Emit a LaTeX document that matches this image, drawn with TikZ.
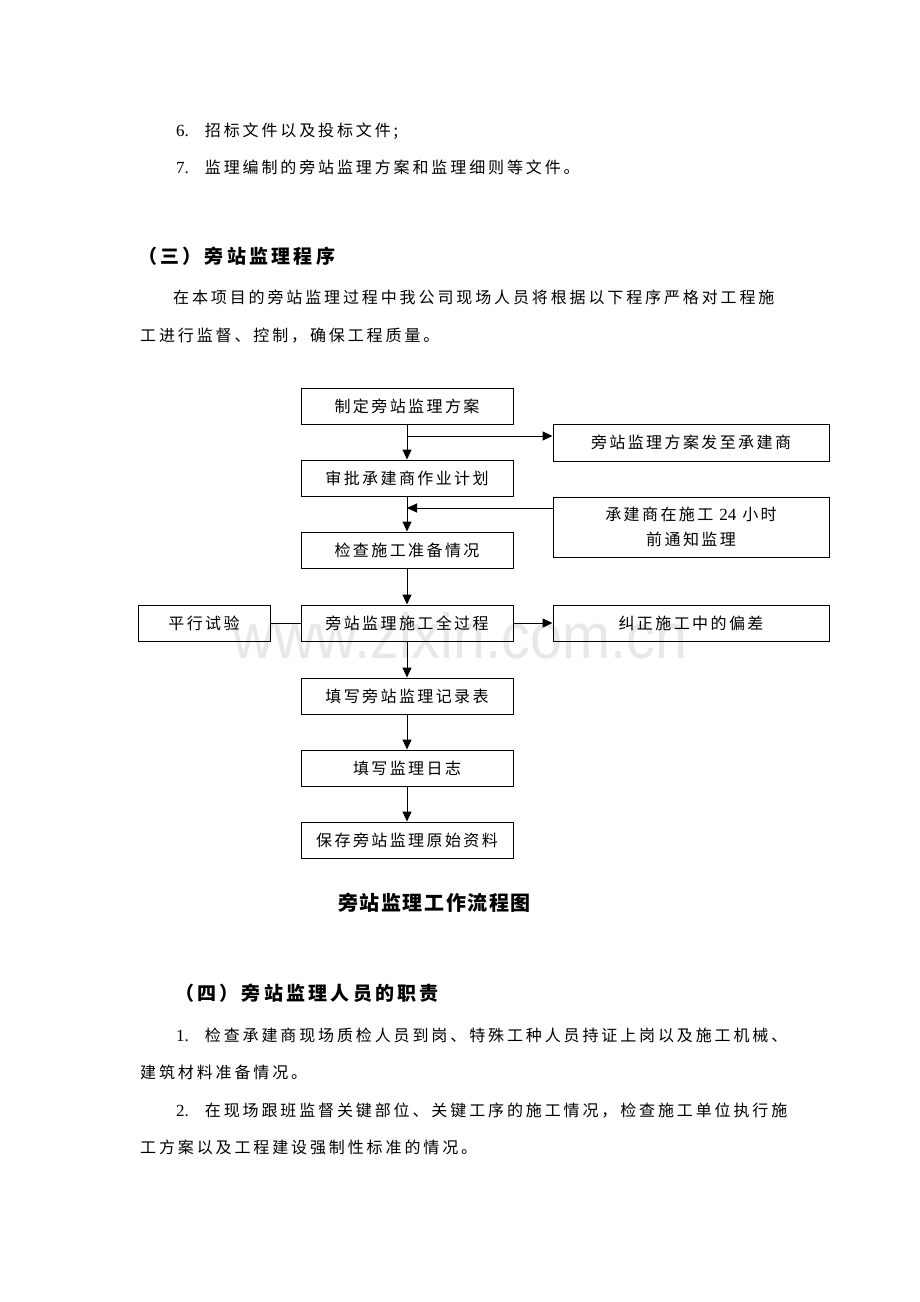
\documentclass[tikz,border=0pt]{standalone}
\usepackage{fontspec}
\setmainfont{Liberation Serif}
\newfontfamily\cjk[LetterSpace=15]{Noto Sans CJK SC}
\newfontfamily\cjkbody[LetterSpace=18]{Noto Sans CJK SC}
\newfontfamily\cjkhead[LetterSpace=17]{Noto Sans CJK SC}
\newfontfamily\cjkcap[LetterSpace=8]{Noto Sans CJK SC}
\newfontfamily\wmfont{Liberation Sans}
\usetikzlibrary{arrows.meta}

\tikzset{
  bodytext/.style={anchor=base west, inner sep=0pt, font=\fontsize{16}{19}\selectfont\cjkbody},
  headtext/.style={anchor=base west, inner sep=0pt, font=\fontsize{19}{22}\selectfont\cjkhead\bfseries},
  stepbox/.style={draw, line width=1pt, minimum height=36pt, inner sep=0pt, align=center, font=\fontsize{16}{25}\selectfont\cjk},
  mainbox/.style={stepbox, minimum width=212pt},
  sidebox/.style={stepbox, minimum width=276pt},
  arr/.style={line width=1pt, -{Triangle[length=10pt,width=9pt]}},
}

\begin{document}
\begin{tikzpicture}[x=1pt,y={(0pt,-1pt)}]
  \useasboundingbox (0,0) rectangle (920,1302);
  \fill[white] (0,0) rectangle (920,1302);

  % watermark
  \node[anchor=base, inner sep=0pt, text=gray!18, xscale=0.9,
        font=\fontsize{64}{70}\selectfont\wmfont] (mark) at (460,658) {www.zixin.com.cn};

  % text above
  \node[bodytext] (item6) at (176,136) {{\rmfamily\fontsize{17}{19}\selectfont 6.}\hspace{16pt}招标文件以及投标文件;};
  \node[bodytext] (item7) at (176,173) {{\rmfamily\fontsize{17}{19}\selectfont 7.}\hspace{16pt}监理编制的旁站监理方案和监理细则等文件。};
  \node[headtext] (head3) at (138,263) {（三）旁站监理程序};
  \node[bodytext] (para1) at (173,303) {在本项目的旁站监理过程中我公司现场人员将根据以下程序严格对工程施};
  \node[bodytext] (para2) at (140,341) {工进行监督、控制，确保工程质量。};

  % main column
  \node[mainbox] (plan)   at (407,406) {制定旁站监理方案};
  \node[mainbox] (approve) at (407,478) {审批承建商作业计划};
  \node[mainbox] (check)  at (407,550) {检查施工准备情况};
  \node[mainbox] (watch)  at (407,623) {旁站监理施工全过程};
  \node[mainbox] (record) at (407,696) {填写旁站监理记录表};
  \node[mainbox] (diary)  at (407,768) {填写监理日志};
  \node[mainbox] (keep)   at (407,840) {保存旁站监理原始资料};

  % side boxes
  \node[sidebox, minimum height=37pt] (send) at (691,442.5) {旁站监理方案发至承建商};
  \node[sidebox, minimum height=60pt] (notify) at (691,527) {承建商在施工 {\rmfamily\fontsize{17}{25}\selectfont 24} 小时\\前通知监理};
  \node[sidebox] (correct) at (691,623) {纠正施工中的偏差};
  \node[stepbox, minimum width=132pt] (parallel) at (204,623) {平行试验};

  % connectors
  \coordinate (fork) at (407,436);
  \coordinate (join) at (407,508);
  \draw[arr] (plan) -- (approve);
  \draw[arr] (fork) -- (send.west |- fork);
  \draw[arr] (approve) -- (check);
  \draw[arr] (notify.west |- join) -- (join);
  \draw[arr] (check) -- (watch);
  \draw[line width=1pt] (parallel) -- (watch);
  \draw[arr] (watch) -- (correct);
  \draw[arr] (watch) -- (record);
  \draw[arr] (record) -- (diary);
  \draw[arr] (diary) -- (keep);

  % text below
  \node[anchor=base west, inner sep=0pt, font=\fontsize{20}{24}\selectfont\cjkcap\bfseries] (caption) at (338,910) {旁站监理工作流程图};
  \node[headtext] (head4) at (175,1000) {（四）旁站监理人员的职责};
  \node[bodytext] (item1) at (176,1041) {{\rmfamily\fontsize{17}{19}\selectfont 1.}\hspace{16pt}检查承建商现场质检人员到岗、特殊工种人员持证上岗以及施工机械、};
  \node[bodytext] (item1b) at (140,1078) {建筑材料准备情况。};
  \node[bodytext] (item2) at (176,1116) {{\rmfamily\fontsize{17}{19}\selectfont 2.}\hspace{16pt}在现场跟班监督关键部位、关键工序的施工情况，检查施工单位执行施};
  \node[bodytext] (item2b) at (140,1153) {工方案以及工程建设强制性标准的情况。};
\end{tikzpicture}
\end{document}
